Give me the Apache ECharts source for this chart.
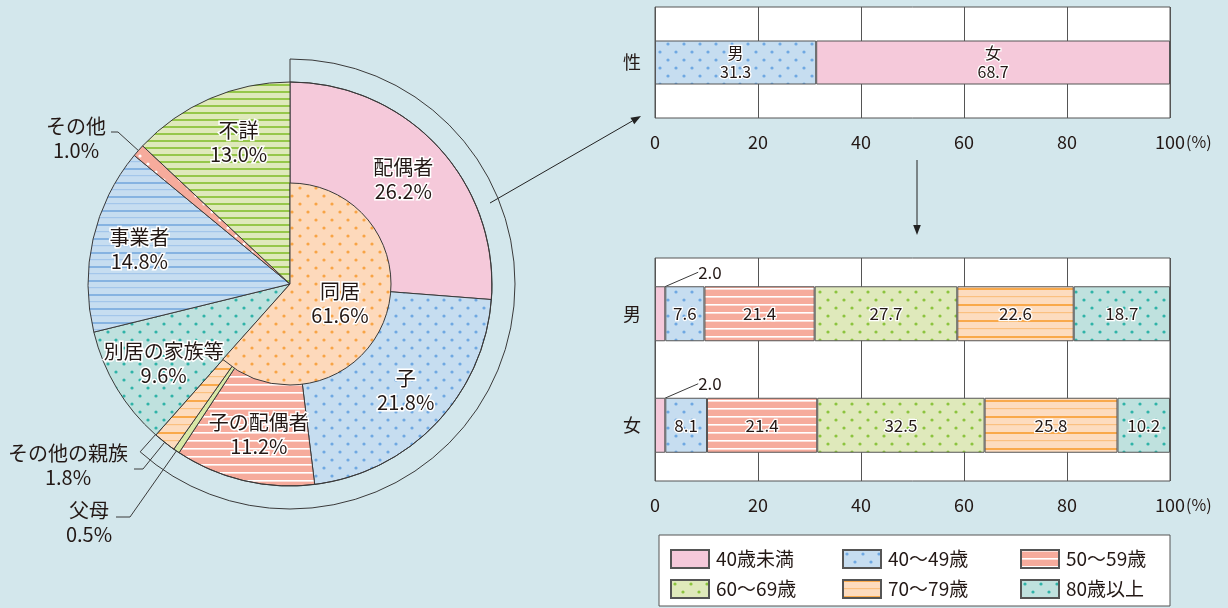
<!DOCTYPE html>
<html><head><meta charset="utf-8">
<script src="https://cdn.jsdelivr.net/npm/echarts@6/dist/echarts.min.js"></script>
<style>html,body{margin:0;padding:0;background:#d3e7ec}#c{width:1228px;height:608px}</style>
</head><body><div id="c"></div>
<script>
// ---------- data ----------
const pieCategories = ['配偶者','子','子の配偶者','父母','その他の親族','別居の家族等','事業者','その他','不詳'];
const pieValues = [26.2, 21.8, 11.2, 0.5, 1.8, 9.6, 14.8, 1.0, 13.0];
const cohabitName = '同居';
const cohabitValue = 61.6;
const separateValues = [9.6, 14.8, 1.0, 13.0];   // 別居の家族等・事業者・その他・不詳 (outside 同居)
const sexAxisLabel = ['性'];
const sexNames = ['男','女'];
const sexValues = [31.3, 68.7];
const barRows = ['男','女'];
const ageGroups = ['40歳未満','40～49歳','50～59歳','60～69歳','70～79歳','80歳以上'];
const maleAge = [2.0, 7.6, 21.4, 27.7, 22.6, 18.7];
const femaleAge = [2.0, 8.1, 21.4, 32.5, 25.8, 10.2];
const xTicks = [0, 20, 40, 60, 80, 100];

// ---------- style ----------
const FONT = '"Noto Sans CJK JP","Noto Sans",sans-serif';
const INK = '#231815';
const LINE = '#3a3a3a';
const CX = 290, CY = 284, R = 202, R_IN = 101, R_ARC = 225;

function dotPat(bg, fg, step, r) {
  const s = step * 2, c = document.createElement('canvas'); c.width = s; c.height = s;
  const g = c.getContext('2d'); g.fillStyle = bg; g.fillRect(0, 0, s, s); g.fillStyle = fg;
  [[step * 0.5, step * 0.5], [step * 1.5, step * 1.5]].forEach(p => { g.beginPath(); g.arc(p[0], p[1], r, 0, Math.PI * 2); g.fill(); });
  return { image: c, repeat: 'repeat' };
}
function linePat(bg, fg, period, w1, w2, fg2) {
  const h = period * 2, c = document.createElement('canvas'); c.width = 8; c.height = h;
  const g = c.getContext('2d'); g.fillStyle = bg; g.fillRect(0, 0, 8, h);
  g.fillStyle = fg; g.fillRect(0, 0, 8, w1);
  g.fillStyle = fg2 || fg; g.fillRect(0, period, 8, w2);
  return { image: c, repeat: 'repeat' };
}
const C = {
  pink: '#f5c9da',
  blueDots: dotPat('#c6ddf0', '#6fa8e2', 8, 1.6),
  salmonLines: linePat('#f6ab9c', '#ffffff', 8, 1.6, 1.6),
  greenSolid: '#d8e8a6',
  orangeLines: linePat('#fddcbf', '#f9a94b', 8, 2, 1.2, '#fbc080'),
  tealDots: dotPat('#bfe1de', '#2fb3a8', 8, 1.6),
  blueLines: linePat('#c6ddf0', '#86b3e1', 7, 2, 1.2, '#a3c6ea'),
  salmonDots: dotPat('#f6ab9c', '#ffffff', 8, 1.6),
  greenLines: linePat('#dfe9bb', '#96c74a', 7, 2, 2),
  greenDots: dotPat('#dfe9bb', '#8cc43e', 8, 1.6),
  peachDots: dotPat('#fdd9bb', '#f8a445', 8, 1.6)
};
const pieFills = [C.pink, C.blueDots, C.salmonLines, C.greenSolid, C.orangeLines, C.tealDots, C.blueLines, C.salmonDots, C.greenLines];
const ageFills = [C.pink, C.blueDots, C.salmonLines, C.greenDots, C.orangeLines, C.tealDots];

// label placement tweaks (padding shifts text inside its box)
const pieLabelPad = { '配偶者': [10,0,0,0], '子': [0,0,12,8], '子の配偶者': [12,0,0,8], '別居の家族等': [0,0,14,12], '不詳': [20,0,0,20] };
const outsideLabels = {
  'その他':       { pos: [76, 138], bend: [118, 132], end: [111, 132] },
  'その他の親族': { pos: [68, 465], bend: [143, 469], end: [134, 469] },
  '父母':         { pos: [89, 522], bend: [130, 517], end: [116, 517] }
};
const haloText = { color: INK, fontFamily: FONT, textBorderColor: '#fff', textBorderWidth: 3 };

// ---------- series ----------
const series = [];
// A: full pie fill
series.push({
  type: 'pie', center: [CX, CY], radius: [0, R], silent: true, z: 2, animation: false,
  label: { show: false }, labelLine: { show: false },
  itemStyle: { borderColor: LINE, borderWidth: 1 },
  data: pieCategories.map((n, i) => ({ name: n, value: pieValues[i], itemStyle: { color: pieFills[i] } }))
});
// D: bracket arc around 同居
series.push({
  type: 'pie', center: [CX, CY], radius: [R, R_ARC], silent: true, z: 2, animation: false,
  label: { show: false }, labelLine: { show: false },
  data: [
    { name: 'arc', value: cohabitValue, itemStyle: { color: 'rgba(0,0,0,0)', borderColor: LINE, borderWidth: 1 } },
    { name: 'rest', value: separateValues.reduce((a, b) => a + b, 0), itemStyle: { color: 'rgba(0,0,0,0)', borderWidth: 0 } }
  ]
});
// B: inner 同居
series.push({
  type: 'pie', center: [CX, CY], radius: [0, R_IN], silent: true, z: 3, animation: false,
  labelLine: { show: false },
  data: [
    { name: cohabitName, value: cohabitValue, itemStyle: { color: C.peachDots, borderColor: LINE, borderWidth: 1 },
      label: Object.assign({ show: true, position: 'inside', fontSize: 20, lineHeight: 24, padding: [0,0,28,0],
        formatter: p => p.name + '\n' + p.value.toFixed(1) + '%' }, haloText) },
    { name: 'rest', value: separateValues.reduce((a, b) => a + b, 0), itemStyle: { color: 'rgba(0,0,0,0)', borderWidth: 0 }, label: { show: false } }
  ]
});
// C: labels for pie categories
series.push({
  type: 'pie', center: [CX, CY], radius: [R_IN, R], silent: true, z: 4, animation: false, avoidLabelOverlap: false,
  itemStyle: { color: 'rgba(0,0,0,0)', borderWidth: 0 },
  label: Object.assign({ show: true, fontSize: 20, lineHeight: 24, formatter: p => p.name + '\n' + p.value.toFixed(1) + '%' }, haloText),
  labelLine: { show: false, length: 10, length2: 10, lineStyle: { color: LINE, width: 1 } },
  labelLayout: function (p) {
    const n = pieCategories[p.dataIndex], o = outsideLabels[n];
    if (!o) return {};
    const p0 = p.labelLinePoints ? p.labelLinePoints[0] : o.bend;
    return { x: o.pos[0], y: o.pos[1], align: 'center', verticalAlign: 'middle', labelLinePoints: [p0, o.bend, o.end] };
  },
  data: pieCategories.map((n, i) => {
    const out = !!outsideLabels[n];
    return {
      name: n, value: pieValues[i],
      label: out ? { position: 'outside', textBorderWidth: 0 } : { position: 'inside', padding: pieLabelPad[n] || 0 },
      labelLine: { show: out }
    };
  })
});

// top bar (sex)
sexNames.forEach((n, i) => {
  series.push({
    type: 'bar', name: n, xAxisIndex: 0, yAxisIndex: 0, stack: 'sex', barWidth: 44, silent: true, animation: false,
    itemStyle: { color: [C.blueDots, C.pink][i], borderColor: '#555', borderWidth: 1 },
    label: Object.assign({ show: true, position: 'inside', fontSize: 16, lineHeight: 19, formatter: p => p.seriesName + '\n' + p.value.toFixed(1) }, haloText, { textBorderWidth: 2.5 }),
    data: [sexValues[i]]
  });
});
// bottom bars (age by sex)
ageGroups.forEach((g, i) => {
  const s = {
    type: 'bar', name: g, xAxisIndex: 1, yAxisIndex: 1, stack: 'age', barWidth: 55, silent: true, animation: false,
    itemStyle: { color: ageFills[i], borderColor: '#555', borderWidth: 1 },
    label: Object.assign({ show: true, position: 'inside', fontSize: 17, formatter: p => p.value.toFixed(1) }, haloText, { textBorderWidth: 2.5 }),
    data: [maleAge[i], femaleAge[i]]
  };
  if (i === 0) {
    s.label.textBorderWidth = 0;
    s.labelLine = { show: true, lineStyle: { color: LINE, width: 1 } };
    s.labelLayout = function (p) {
      const r = p.rect, x0 = r.x + r.width * 0.6, y0 = r.y + 3, yb = r.y - 14;
      return { x: x0 + 37, y: yb, align: 'left', verticalAlign: 'middle', labelLinePoints: [[x0, y0], [x0 + 13, yb], [x0 + 34, yb]] };
    };
  }
  series.push(s);
});

function xAxisOf(gi) {
  return {
    type: 'value', gridIndex: gi, min: xTicks[0], max: xTicks[xTicks.length - 1], interval: xTicks[1] - xTicks[0],
    axisLine: { show: false }, axisTick: { show: false },
    splitLine: { show: true, lineStyle: { color: '#555', width: 1 } },
    axisLabel: { fontSize: 18, color: INK, margin: 15, fontFamily: FONT },
    name: '(%)', nameLocation: 'end', nameGap: 16, nameMoveOverlap: false,
    nameTextStyle: { fontSize: 16, color: INK, fontFamily: FONT, verticalAlign: 'top', padding: [16, 0, 0, 0] }
  };
}
function yAxisOf(gi, cats) {
  return {
    type: 'category', gridIndex: gi, data: cats, inverse: true,
    axisLine: { show: false }, axisTick: { show: false }, splitLine: { show: false },
    axisLabel: { fontSize: 18, color: INK, margin: 14, fontFamily: FONT }
  };
}

// arrows (decorative connectors)
function arrow(x1, y1, x2, y2) {
  const dx = x2 - x1, dy = y2 - y1, L = Math.hypot(dx, dy), ux = dx / L, uy = dy / L, hl = 10, hw = 3.8;
  const bx = x2 - ux * hl, by = y2 - uy * hl;
  return [
    { type: 'line', shape: { x1: x1, y1: y1, x2: bx, y2: by }, style: { stroke: '#222', lineWidth: 1 }, silent: true },
    { type: 'polygon', shape: { points: [[x2, y2], [bx - uy * hw, by + ux * hw], [bx + uy * hw, by - ux * hw]] }, style: { fill: '#222' }, silent: true }
  ];
}

const option = {
  backgroundColor: '#d3e7ec',
  animation: false,
  textStyle: { fontFamily: FONT },
  grid: [
    { left: 655, top: 7, width: 515, height: 111, show: true, backgroundColor: '#fff', borderColor: '#555', borderWidth: 1 },
    { left: 655, top: 258, width: 515, height: 223, show: true, backgroundColor: '#fff', borderColor: '#555', borderWidth: 1 }
  ],
  xAxis: [xAxisOf(0), xAxisOf(1)],
  yAxis: [yAxisOf(0, sexAxisLabel), yAxisOf(1, barRows)],
  legend: [0, 1, 2].map(k => ({
    orient: 'vertical', left: [665, 837, 1015][k], top: 544, itemWidth: 38, itemHeight: 18, itemGap: 10,
    icon: 'rect', selectedMode: false, data: [ageGroups[k], ageGroups[k + 3]],
    textStyle: { fontSize: 19, color: INK, fontFamily: FONT, padding: [0, 0, 0, 2] }
  })),
  graphic: [
    { type: 'rect', shape: { x: 659, y: 535, width: 511, height: 71 }, style: { fill: '#fff', stroke: '#555', lineWidth: 1 }, z: -1, silent: true }
  ].concat(arrow(490, 203, 641, 116), arrow(917, 160, 917, 235)),
  series: series
};
const chart = echarts.init(document.getElementById('c'));
chart.setOption(option);
chart.setOption(option);
</script></body></html>
